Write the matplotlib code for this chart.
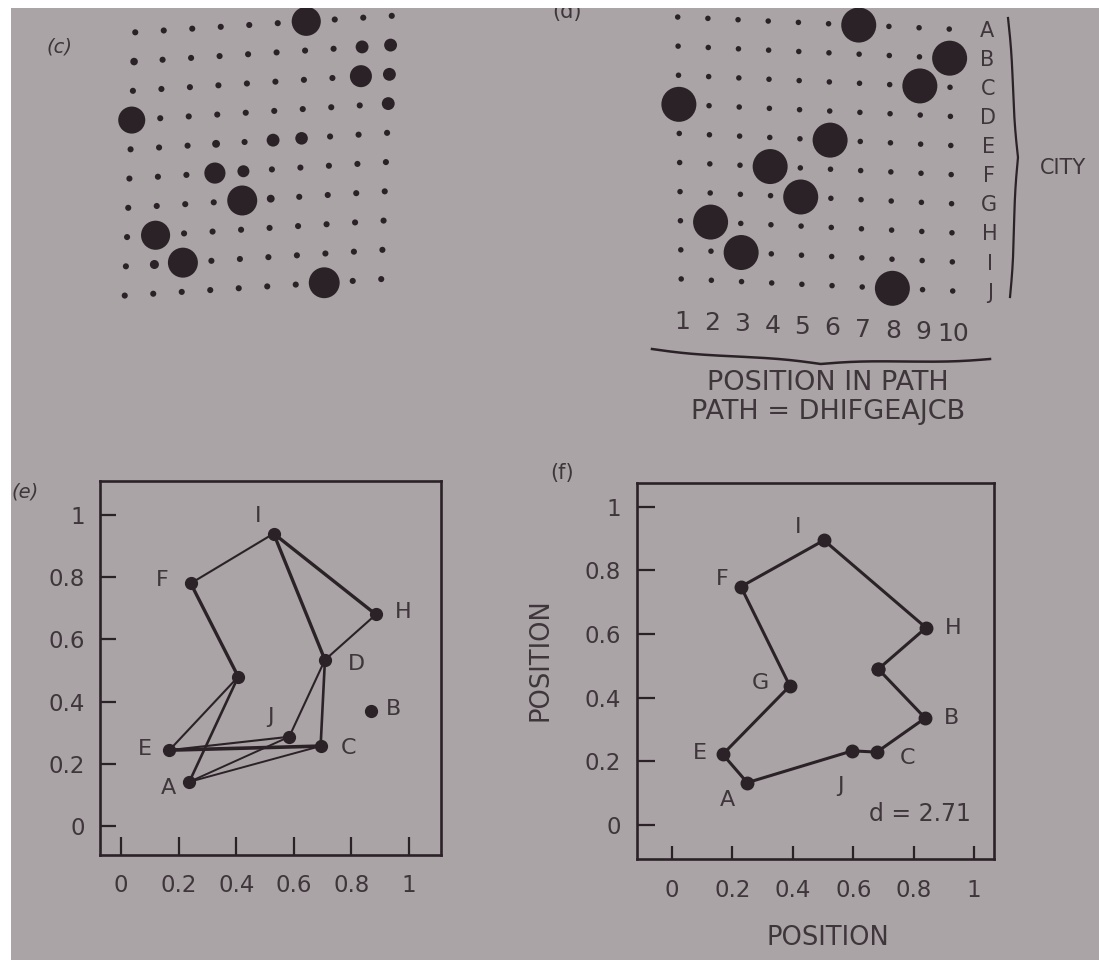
import numpy as np
import matplotlib
# Backend non interactif : on ne fait qu'écrire le PNG
matplotlib.use("Agg")
import matplotlib.pyplot as plt
from matplotlib.transforms import Affine2D
from matplotlib.patches import Rectangle

# ---------------------------------------------------------------
# Données
# ---------------------------------------------------------------
villes = list("ABCDEFGHIJ")
rangs = list(range(1, 11))

# Sorties des neurones, état intermédiaire (c) : une ligne par ville, une colonne par rang
sorties_c = [
    [.02, .02, .02, .02, .02, .02, .80, .02, .02, .02],  # A
    [.07, .02, .02, .02, .02, .02, .02, .02, .25, .25],  # B
    [.02, .02, .02, .02, .02, .02, .02, .02, .56, .25],  # C
    [.73, .02, .02, .02, .02, .02, .02, .02, .02, .25],  # D
    [.02, .02, .02, .08, .02, .25, .24, .02, .02, .02],  # E
    [.02, .02, .02, .53, .22, .02, .02, .02, .02, .02],  # F
    [.02, .02, .02, .02, .83, .08, .02, .02, .02, .02],  # G
    [.02, .80, .02, .02, .02, .02, .02, .02, .02, .02],  # H
    [.02, .12, .83, .02, .02, .02, .02, .02, .02, .02],  # I
    [.02, .02, .02, .02, .02, .02, .02, .86, .02, .02],  # J
]

# État final (d) : un seul neurone allumé par ville, dans l'ordre du chemin
chemin = "DHIFGEAJCB"
longueur_tour = 2.71

# Positions des villes, panneau (e)
x_e = [0.237, 0.868, 0.693, 0.708, 0.168, 0.242, 0.407, 0.885, 0.530, 0.584]
y_e = [0.142, 0.370, 0.257, 0.534, 0.244, 0.780, 0.480, 0.680, 0.940, 0.287]
# Segments superposés (ville, ville, épaisseur)
aretes_e = [
    ("I", "F", 1.5), ("F", "G", 2.4), ("I", "H", 2.4), ("I", "D", 2.4),
    ("H", "D", 1.5), ("D", "J", 1.5), ("D", "C", 1.9), ("G", "E", 1.5),
    ("G", "A", 1.9), ("E", "C", 2.6), ("E", "J", 1.5), ("A", "J", 1.4),
    ("A", "C", 1.4),
]

# Positions des villes, panneau (f)
x_f = [0.249, 0.838, 0.678, 0.683, 0.168, 0.228, 0.390, 0.841, 0.503, 0.597]
y_f = [0.133, 0.336, 0.229, 0.490, 0.222, 0.749, 0.437, 0.620, 0.895, 0.233]

graduations = [0, 0.2, 0.4, 0.6, 0.8, 1]
etiquettes = ["0", "0.2", "0.4", "0.6", "0.8", "1"]

# Décalage des lettres par rapport aux points (pixels, vers la droite / vers le bas)
decalages_e = {"I": (-16, -18), "F": (-28, -3), "H": (27, -2), "D": (32, 4),
               "B": (22, -2), "J": (-19, -20), "E": (-25, -1), "C": (28, 2),
               "A": (-21, 6)}
decalages_f = {"I": (-26, -13), "F": (-19, -8), "G": (-29, -3), "E": (-23, -1),
               "A": (-20, 17), "J": (-12, 35), "C": (31, 6), "B": (26, 0),
               "H": (27, 0)}

# ---------------------------------------------------------------
# Mise en page
# ---------------------------------------------------------------
W, H, DPI = 1099, 960, 100
FOND = "#aaa4a6"
ENCRE = "#2b2227"
TEXTE = "#3f363b"

plt.rcParams["font.family"] = ["DejaVu Sans"]

fig = plt.figure(figsize=(W / DPI, H / DPI), dpi=DPI, facecolor=FOND)


def axes_px(gauche, haut, droite, bas, **kw):
    """Axes placés en pixels (origine en haut à gauche)."""
    return fig.add_axes([gauche / W, 1 - bas / H, (droite - gauche) / W, (bas - haut) / H], **kw)


def tracer_grille(boite, echelle, origine, cisaillement, sorties):
    """Grille 10 x 10 de neurones, diamètre du point proportionnel à la sortie."""
    ax = axes_px(*boite)
    ax.axis("off")
    kx, ky = cisaillement
    # la page photographiée est légèrement de travers
    transfo = Affine2D(np.array([[1, kx, 0], [ky, 1, 0], [0, 0, 1.0]])) + ax.transData
    cols, lignes = np.meshgrid(rangs, np.arange(len(villes)))
    diam_px = 5.5 + 29.5 * np.asarray(sorties, float)
    ax.scatter(cols.ravel(), lignes.ravel(), s=(diam_px.ravel() * 72 / DPI) ** 2,
               color=ENCRE, linewidths=0, transform=transfo)
    g, h, d, b = boite
    sx, sy = echelle
    x0, y0 = origine
    ax.set_xlim((g - x0) / sx, (d - x0) / sx)
    ax.set_ylim((b - y0) / sy, (h - y0) / sy)
    return ax, transfo


def habiller(ax, xlim, ylim, long_x, long_y, pad_x, pad_y):
    ax.set_facecolor("none")
    for s in ax.spines.values():
        s.set_linewidth(1.9)
        s.set_color(ENCRE)
    ax.set_xticks(graduations, etiquettes)
    ax.set_yticks(graduations, etiquettes)
    ax.tick_params(direction="in", width=1.6, color=ENCRE, labelcolor=TEXTE, labelsize=16.5)
    ax.tick_params(axis="x", length=long_x, pad=pad_x)
    ax.tick_params(axis="y", length=long_y, pad=pad_y)
    ax.set_xlim(*xlim)
    ax.set_ylim(*ylim)


def nommer(ax, pos, decalages):
    for v, (dx, dy) in decalages.items():
        ax.annotate(v, pos[v], xytext=(dx * 72 / DPI, -dy * 72 / DPI),
                    textcoords="offset points", ha="center", va="center",
                    fontsize=16, color=TEXTE)


# --- (c) état intermédiaire ---
tracer_grille((100, 0, 410, 320), (28.5, 29.25), (106.75, 34.15), (-0.041, -0.0626), sorties_c)

# --- (d) état final ---
sorties_d = [[1.0 if chemin[r - 1] == v else 0.0 for r in rangs] for v in villes]
ax_d, tr_d = tracer_grille((640, 0, 1000, 340), (30.17, 29.1), (647.55, 15.7), (0.0128, 0.046), sorties_d)
for i, v in enumerate(villes):
    ax_d.text(11.25, i, v, transform=tr_d, ha="center", va="center", fontsize=15, color=TEXTE)
for r in rangs:
    ax_d.text(r, 10.47, str(r), transform=tr_d, ha="center", va="center", fontsize=18, color=TEXTE)

# --- (e) chemins superposés ---
ax_e = axes_px(100, 481, 441, 855)
pos_e = dict(zip(villes, zip(x_e, y_e)))
for a, b, lw in aretes_e:
    ax_e.plot([pos_e[a][0], pos_e[b][0]], [pos_e[a][1], pos_e[b][1]],
              color=ENCRE, lw=lw, solid_capstyle="round")
ax_e.plot(x_e, y_e, "o", ms=8.5, color=ENCRE, ls="none")
nommer(ax_e, pos_e, decalages_e)
habiller(ax_e, (-0.073, 1.111), (-0.093, 1.109), 13, 11.5, 13.5, 11)

# --- (f) tour final ---
ax_f = axes_px(637, 483, 994, 859)
pos_f = dict(zip(villes, zip(x_f, y_f)))
ordre = list(chemin) + [chemin[0]]
ax_f.plot([pos_f[v][0] for v in ordre], [pos_f[v][1] for v in ordre],
          color=ENCRE, lw=2.2, marker="o", ms=9)
nommer(ax_f, pos_f, decalages_f)
habiller(ax_f, (-0.116, 1.066), (-0.107, 1.075), 9.5, 13, 14.5, 11.5)
ax_f.set_xlabel("POSITION", fontsize=18.5, color=TEXTE)
ax_f.set_ylabel("POSITION", fontsize=18.5, color=TEXTE)
ax_f.xaxis.set_label_coords(0.535, -0.175)
ax_f.yaxis.set_label_coords(-0.235, 0.529)
ax_f.text(0.793, 0.12, f"d = {longueur_tour:.2f}", transform=ax_f.transAxes,
          ha="center", va="center", fontsize=17, color=TEXTE)

# ---------------------------------------------------------------
# Habillage : accolades, titres, lettres des panneaux
# ---------------------------------------------------------------
deco = fig.add_axes([0, 0, 1, 1], zorder=10)
deco.set_xlim(0, W)
deco.set_ylim(H, 0)
deco.axis("off")


def accolade(ax, p0, p1, profondeur, beta=0.045, **kw):
    p0 = np.asarray(p0, float)
    p1 = np.asarray(p1, float)
    L = np.hypot(*(p1 - p0))
    u = np.linspace(0, L / 2, 200)
    demi = 1 / (1 + np.exp(-beta * u)) + 1 / (1 + np.exp(-beta * (u - L / 2))) - 0.5
    s = np.concatenate([u, L - u[::-1][1:]])
    h = np.concatenate([demi, demi[::-1][1:]])
    d = (p1 - p0) / L
    n = np.array([d[1], -d[0]])
    pts = p0 + np.outer(s, d) + np.outer(h * profondeur, n)
    ax.plot(pts[:, 0], pts[:, 1], **kw)


accolade(deco, (1008, 18), (1010, 297), 9, color=ENCRE, lw=1.6)
accolade(deco, (652, 349), (990, 359), -10, color=ENCRE, lw=1.8)

deco.text(1040, 168, "CITY", ha="left", va="center", fontsize=15, color=TEXTE, zorder=3)
deco.text(828, 383, "POSITION IN PATH", ha="center", va="center", fontsize=19.5, color=TEXTE, zorder=3)
deco.text(828, 412, f"PATH = {chemin}", ha="center", va="center", fontsize=19.5, color=TEXTE, zorder=3)

deco.text(59, 47, "(c)", ha="center", va="center", fontsize=14, style="italic", color=TEXTE, zorder=3)
deco.text(567, 12, "(d)", ha="center", va="center", fontsize=15, color=TEXTE, zorder=3)
deco.text(25, 492, "(e)", ha="center", va="center", fontsize=14, style="italic", color=TEXTE, zorder=3)
deco.text(562, 473, "(f)", ha="center", va="center", fontsize=15, color=TEXTE, zorder=3)

# bords blancs de la page
deco.add_patch(Rectangle((0, 0), W, 8, color="white", lw=0, zorder=5))
deco.add_patch(Rectangle((0, 0), 11, H, color="white", lw=0, zorder=5))

fig.savefig("out.png", dpi=DPI, facecolor=FOND)
plt.close(fig)
